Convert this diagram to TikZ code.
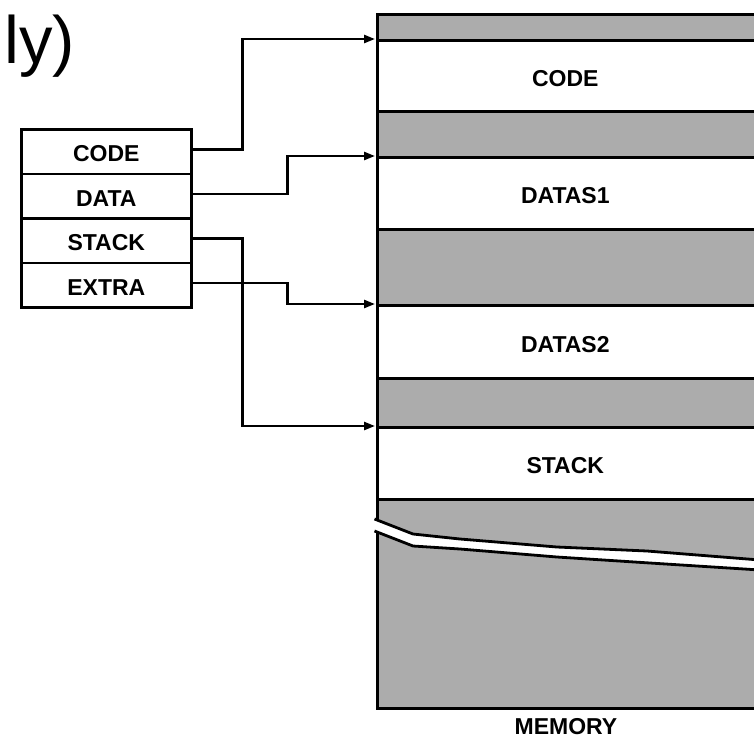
\documentclass[tikz,border=0pt]{standalone}
\usepackage{fontspec}
\setmainfont{Liberation Sans}
\usetikzlibrary{arrows.meta}

\definecolor{shade}{RGB}{172,172,172}

\tikzset{
  every picture/.style={x=1pt,y=-1pt},
  edge/.style={line width=2.6pt},
  lbl/.style={font=\fontsize{23}{26}\selectfont\bfseries},
  cell/.style={draw,edge,minimum width=170pt,minimum height=44.5pt,
               inner sep=0pt,anchor=north west},
  seg/.style={draw,edge,minimum width=384pt,inner sep=0pt,anchor=north west},
  free/.style={seg,fill=shade},
  used/.style={seg,fill=white},
  tag/.style={lbl,inner sep=0pt,yshift=-2.5pt},
  conn/.style={line width=2.4pt,-{Triangle[length=11pt,width=8pt]},shorten >=1pt},
  tear/.style={line width=2.8pt},
}

\begin{document}
\begin{tikzpicture}
\useasboundingbox (0,0) rectangle (754,742);

% title fragment
\node[anchor=base west,inner sep=0pt,font=\fontsize{67}{70}\selectfont] (title) at (4,63) {ly)};

% segment register table
\node[cell] (code)  at (20,128)   {};
\node[cell] (data)  at (20,172.5) {};
\node[cell] (stack) at (20,217)   {};
\node[cell] (extra) at (20,261.5) {};
\node[tag] (tcode)  at (code.center)  {CODE};
\node[tag] (tdata)  at (data.center)  {DATA};
\node[tag] (tstack) at (stack.center) {STACK};
\node[tag] (textra) at (extra.center) {EXTRA};

% memory map
\node[free,minimum height=26pt]  (g1)     at (376,13)  {};
\node[used,minimum height=71pt]  (mcode)  at (376,39)  {};
\node[free,minimum height=46pt]  (g2)     at (376,110) {};
\node[used,minimum height=72pt]  (mdata1) at (376,156) {};
\node[free,minimum height=76pt]  (g3)     at (376,228) {};
\node[used,minimum height=73pt]  (mdata2) at (376,304) {};
\node[free,minimum height=49pt]  (g4)     at (376,377) {};
\node[used,minimum height=72pt]  (mstack) at (376,426) {};
\node[free,minimum height=209pt] (g5)     at (376,498) {};
\node[tag] (tmcode)  at ([xshift=-4pt]mcode.center)  {CODE};
\node[tag] (tmdata1) at ([xshift=-4pt]mdata1.center) {DATAS1};
\node[tag] (tmdata2) at ([xshift=-4pt]mdata2.center) {DATAS2};
\node[tag] (tmstack) at ([xshift=-4pt]mstack.center) {STACK};

% torn edge across the free area
\fill[white] (372,519) -- (413,534) -- (460,539) -- (557,547) -- (647,551) -- (760,560)
          -- (760,569) -- (650,563) -- (557,557) -- (460,549) -- (413,546) -- (372,531) -- cycle;
\draw[tear] (374.5,519) -- (413,534) -- (460,539) -- (557,547) -- (647,551) -- (760,560);
\draw[tear] (374.5,531) -- (413,546) -- (460,549) -- (557,557) -- (650,563) -- (760,570);

\node[lbl,inner sep=0pt] (mem) at (566,727) {MEMORY};

% segment registers pointing into memory
\draw[conn] ([yshift=2pt]code.east)  -- ++(50,0) |- (mcode.north west);
\draw[conn] ([yshift=2pt]data.east)  -- ++(95,0) |- (mdata1.north west);
\draw[conn] ([yshift=2pt]stack.east) -- ++(50,0) |- (mstack.north west);
\draw[conn] ([yshift=2pt]extra.east) -- ++(95,0) |- (mdata2.north west);
\end{tikzpicture}
\end{document}
